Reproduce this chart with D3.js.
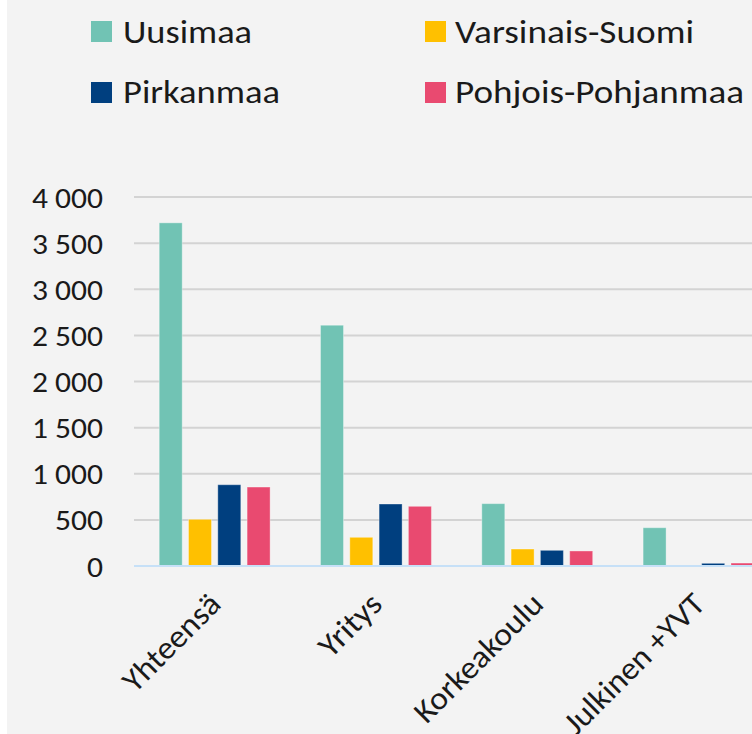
<!DOCTYPE html>
<html>
<head>
<meta charset="utf-8">
<script src="https://cdn.jsdelivr.net/npm/d3@7"></script>
<style>
  html, body { margin: 0; padding: 0; background: #ffffff; }
  svg { display: block; }
  text { font-family: Carlito, Calibri, Lato, "Open Sans", sans-serif; fill: #1a1a1a; }
</style>
</head>
<body>
<div id="chart"></div>
<script>
// ---- data ----
const categories = ["Yhteensä", "Yritys", "Korkeakoulu", "Julkinen +YVT"];
const seriesNames = ["Uusimaa", "Varsinais-Suomi", "Pirkanmaa", "Pohjois-Pohjanmaa"];
const uusimaa = [3720, 2610, 676, 415];
const varsinaisSuomi = [506, 311, 184, 0];
const pirkanmaa = [881, 672, 170, 29];
const pohjoisPohjanmaa = [856, 647, 163, 32];
const seriesColors = ["#71c3b4", "#ffc000", "#003f7f", "#e94a70"];
const yTicks = [0, 500, 1000, 1500, 2000, 2500, 3000, 3500, 4000];

const seriesValues = [uusimaa, varsinaisSuomi, pirkanmaa, pohjoisPohjanmaa];

const W = 752, H = 734;
const svg = d3.select("#chart").append("svg").attr("width", W).attr("height", H);

// background
svg.append("rect").attr("x", 7).attr("y", 0).attr("width", W - 7).attr("height", H).attr("fill", "#f3f3f3");

const plotLeft = 134, bandStep = 161.3;
const x = d3.scaleBand().domain(categories).range([plotLeft, plotLeft + categories.length * bandStep]).padding(0);
const xs = d3.scaleBand().domain(seriesNames).range([0, x.bandwidth()]).paddingInner(0.215).paddingOuter(0.86);
const y = d3.scaleLinear().domain([0, 4000]).range([566, 197]);

const fmt = v => d3.format(",")(v).replace(/,/g, " ");

// gridlines
svg.append("g").selectAll("line").data(yTicks.filter(t => t > 0)).join("line")
  .attr("x1", plotLeft).attr("x2", W)
  .attr("y1", d => y(d)).attr("y2", d => y(d))
  .attr("stroke", "#d3d3d3").attr("stroke-width", 2);

// tick labels
const tickLen = {"0": 16, "500": 48, "1000": 71, "1500": 71, "2000": 71, "2500": 71, "3000": 71, "3500": 71, "4000": 71};
svg.append("g").selectAll("text").data(yTicks).join("text")
  .attr("x", 103).attr("y", d => y(d) + 10.5)
  .attr("text-anchor", "end")
  .attr("font-size", 29.5)
  .attr("textLength", d => tickLen[d]).attr("lengthAdjust", "spacingAndGlyphs")
  .text(d => fmt(d));

// bars
const rows = [];
seriesNames.forEach((s, si) => categories.forEach((c, ci) => rows.push({s, c, v: seriesValues[si][ci], color: seriesColors[si]})));
svg.append("g").selectAll("rect").data(rows).join("rect")
  .attr("x", d => x(d.c) + xs(d.s))
  .attr("width", xs.bandwidth())
  .attr("y", d => y(d.v))
  .attr("height", d => y(0) - y(d.v))
  .attr("fill", d => d.color)
  .attr("stroke", "rgba(255,255,255,0.35)").attr("stroke-width", 1);

// zero axis line
svg.append("line").attr("x1", plotLeft).attr("x2", W).attr("y1", y(0)).attr("y2", y(0))
  .attr("stroke", "#c6e0f7").attr("stroke-width", 2);

// category labels
const catLen = {"Yhteensä": 124, "Yritys": 75, "Korkeakoulu": 168, "Julkinen +YVT": 184};
svg.append("g").selectAll("text").data(categories).join("text")
  .attr("transform", d => `translate(${x(d) + x.bandwidth() / 2 + 8},606) rotate(-45)`)
  .attr("text-anchor", "end")
  .attr("font-size", 32)
  .attr("textLength", d => catLen[d]).attr("lengthAdjust", "spacingAndGlyphs")
  .text(d => d);

// legend
const legendPos = [
  {x: 91, y: 21, tx: 123, ty: 43, len: 129},
  {x: 425, y: 21, tx: 455, ty: 43, len: 239},
  {x: 91, y: 82, tx: 123, ty: 103, len: 157},
  {x: 425, y: 82, tx: 455, ty: 103, len: 289}
];
const lg = svg.append("g").selectAll("g").data(seriesNames).join("g");
lg.append("rect")
  .attr("x", (d, i) => legendPos[i].x).attr("y", (d, i) => legendPos[i].y)
  .attr("width", 21).attr("height", 21)
  .attr("fill", (d, i) => seriesColors[i]);
lg.append("text")
  .attr("x", (d, i) => legendPos[i].tx).attr("y", (d, i) => legendPos[i].ty)
  .attr("font-size", 32)
  .attr("textLength", (d, i) => legendPos[i].len).attr("lengthAdjust", "spacingAndGlyphs")
  .text(d => d);
</script>
</body>
</html>
